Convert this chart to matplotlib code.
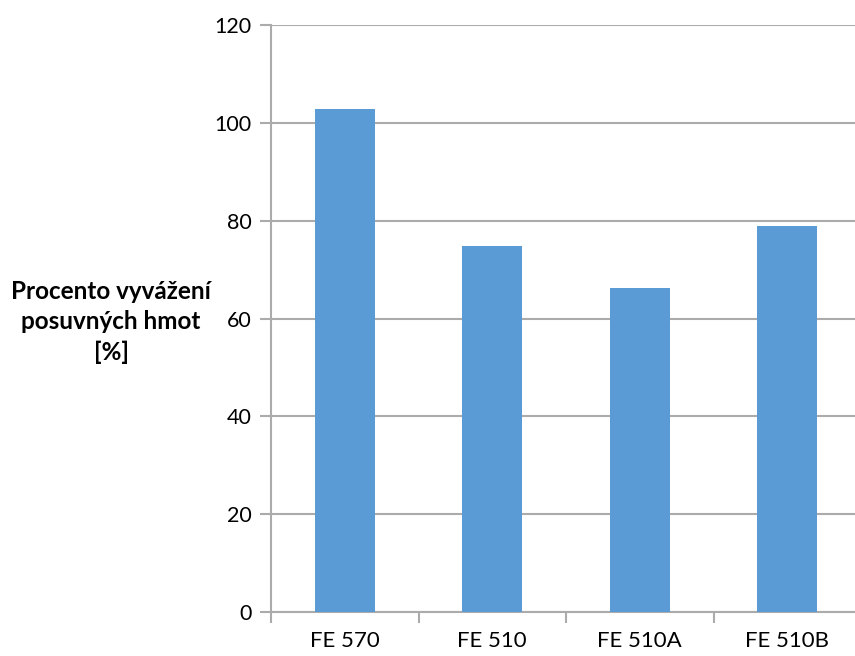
import matplotlib
matplotlib.use("Agg")
import matplotlib.pyplot as plt

plt.rcParams['font.family'] = ['Lato', 'DejaVu Sans']

# balancing of reciprocating masses per locomotive type
types = ['FE 570', 'FE 510', 'FE 510A', 'FE 510B']
balance_pct = [102.8, 74.9, 66.2, 78.9]
y_ticks = [0, 20, 40, 60, 80, 100, 120]

bar_color = '#5B9BD5'
grid_color = '#ABABAB'

fig = plt.figure(figsize=(8.55, 6.56), dpi=100)
ax = fig.add_axes([271 / 855, 1 - 612 / 656, 590 / 855, 587 / 656])

x = range(len(types))
ax.bar(x, balance_pct, width=0.41, color=bar_color, zorder=3)

ax.set_xlim(-0.5, len(types) - 0.5)
ax.set_ylim(0, 120)
ax.set_yticks(y_ticks)
ax.yaxis.grid(True, color=grid_color, linewidth=1.5, zorder=0)

# category boundaries as ticks, labels in the middle
ax.set_xticks([i - 0.5 for i in range(len(types))])
ax.set_xticklabels([])
ax.set_xticks(list(x), minor=True)
ax.set_xticklabels(types, minor=True, fontsize=16)
ax.tick_params(axis='x', which='minor', length=0, pad=14)
ax.tick_params(axis='x', which='major', length=8, width=1.5, color=grid_color)
ax.tick_params(axis='y', length=8, width=1.5, color=grid_color, labelsize=15.5, pad=6)

for side in ['top', 'right']:
    ax.spines[side].set_visible(False)
for side in ['left', 'bottom']:
    ax.spines[side].set_color(grid_color)
    ax.spines[side].set_linewidth(1.5)

fig.text(111 / 855, 1 - 322 / 656, 'Procento vyvážení\nposuvných hmot\n[%]',
         ha='center', va='center', fontsize=17.5, fontweight='bold',
         linespacing=1.4)

fig.savefig('out.png', dpi=100)
